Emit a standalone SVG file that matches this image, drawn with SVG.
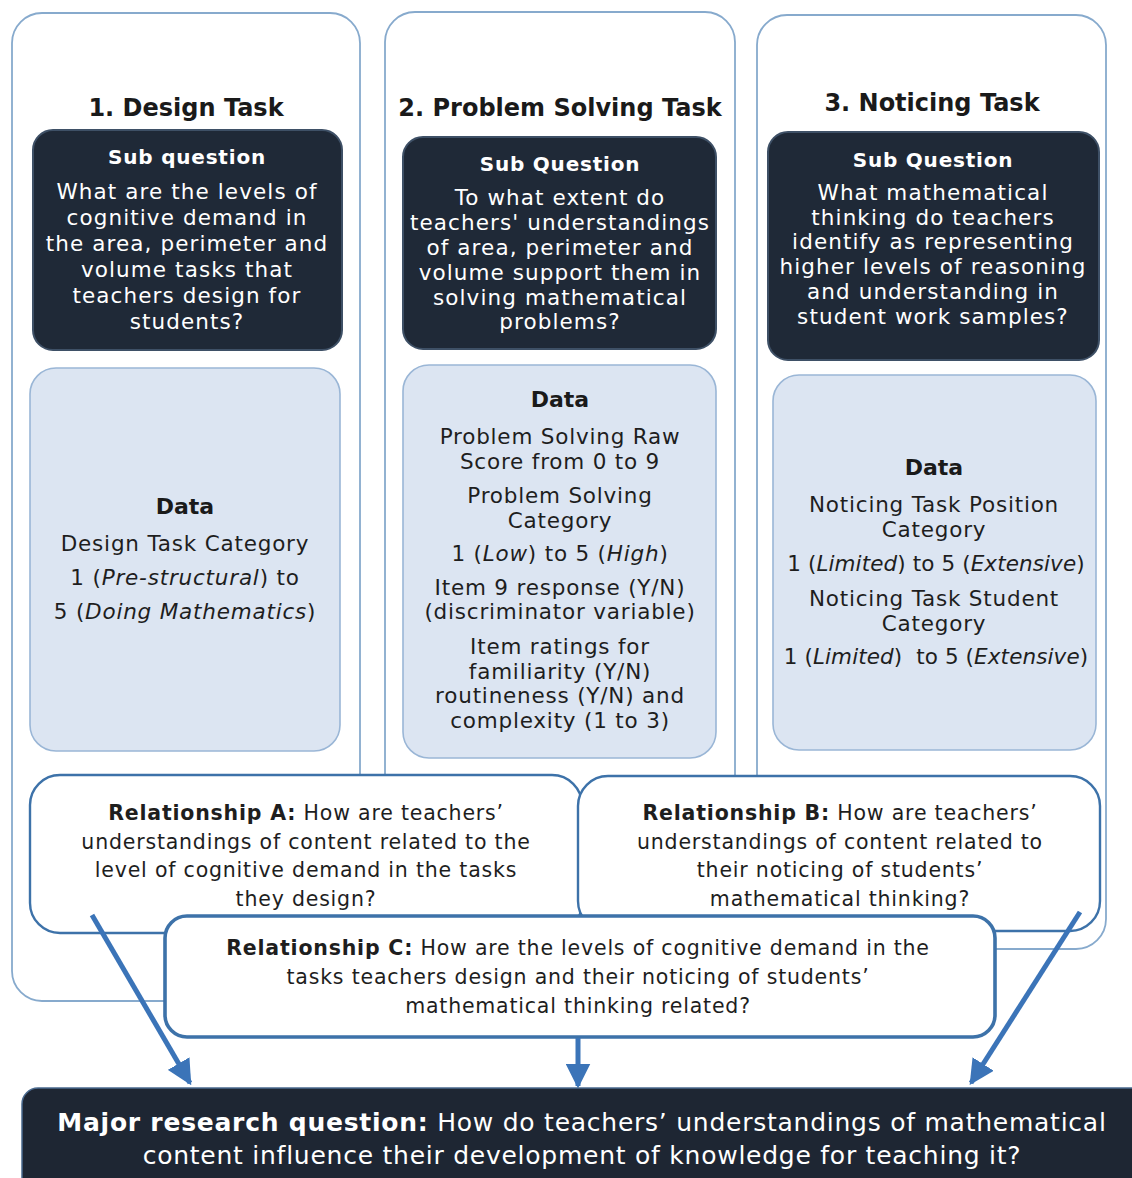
<svg xmlns="http://www.w3.org/2000/svg" width="1132" height="1178" viewBox="0 0 1132 1178">
  <defs>
    <marker id="arrowhead" viewBox="0 0 10 10" refX="9" refY="5" markerWidth="5" markerHeight="5" orient="auto" markerUnits="strokeWidth">
      <path d="M0,0 L10,5 L0,10 Z" fill="#3b74b8"/>
    </marker>
    <style>
      text { font-family: "DejaVu Sans", "Open Sans", sans-serif; text-anchor: middle; }
      .column { fill: #ffffff; stroke: #87aacd; stroke-width: 1.8; }
      .question { fill: #1f2937; stroke: #3e5066; stroke-width: 2; }
      .data { fill: #dce5f2; stroke: #9ab6d6; stroke-width: 1.6; }
      .rel { fill: #ffffff; stroke: #3d72a9; stroke-width: 2.4; }
      .relc { fill: #ffffff; stroke: #3d72a9; stroke-width: 3.6; }
      .major { fill: #1e2633; stroke: #4a6a8f; stroke-width: 1.5; }
      .title { font-size: 24px; font-weight: 700; fill: #1a1a1a; }
      .qhead { font-size: 20px; font-weight: 700; fill: #ffffff; letter-spacing: 0.8px; }
      .qbody { font-size: 21.5px; fill: #ffffff; letter-spacing: 1.1px; }
      .dhead { font-size: 22px; font-weight: 700; fill: #1a1a1a; }
      .dbody { font-size: 21.5px; fill: #1e1e1e; letter-spacing: 0.8px; }
      .dbody.tight { letter-spacing: 0.1px; }
      .rbody { font-size: 20.5px; fill: #1e1e1e; letter-spacing: 0.8px; }
      .mbody { font-size: 25px; fill: #ffffff; letter-spacing: 0.75px; }
      .b { font-weight: 700; }
      .i { font-style: italic; }
      .arrow { stroke: #3b74b8; stroke-width: 5; fill: none; marker-end: url(#arrowhead); }
    </style>
  </defs>

  <rect width="1132" height="1178" fill="#ffffff"/>

  <!-- Column 1: Design Task -->
  <g id="col-design">
    <rect class="column" x="12" y="13" width="348" height="988" rx="30"/>
    <text class="title" x="186" y="116">1. Design Task</text>
    <g id="design-question">
      <rect class="question" x="33" y="130" width="309" height="220" rx="20"/>
      <text class="qhead" x="187" y="164">Sub question</text>
      <text class="qbody" x="187" y="199">What are the levels of</text>
      <text class="qbody" x="187" y="225">cognitive demand in</text>
      <text class="qbody" x="187" y="251">the area, perimeter and</text>
      <text class="qbody" x="187" y="277">volume tasks that</text>
      <text class="qbody" x="187" y="303">teachers design for</text>
      <text class="qbody" x="187" y="329">students?</text>
    </g>
    <g id="design-data">
      <rect class="data" x="30" y="368" width="310" height="383" rx="26"/>
      <text class="dhead" x="185" y="514">Data</text>
      <text class="dbody" x="185" y="551">Design Task Category</text>
      <text class="dbody" x="185" y="585">1 (<tspan class="i">Pre-structural</tspan>) to</text>
      <text class="dbody" x="185" y="619">5 (<tspan class="i">Doing Mathematics</tspan>)</text>
    </g>
  </g>

  <!-- Column 2: Problem Solving Task -->
  <g id="col-problem">
    <rect class="column" x="385" y="12" width="350" height="930" rx="30"/>
    <text class="title" x="560" y="116">2. Problem Solving Task</text>
    <g id="problem-question">
      <rect class="question" x="403" y="137" width="313" height="212" rx="20"/>
      <text class="qhead" x="560" y="171">Sub Question</text>
      <text class="qbody" x="560" y="205">To what extent do</text>
      <text class="qbody" x="560" y="230">teachers' understandings</text>
      <text class="qbody" x="560" y="255">of area, perimeter and</text>
      <text class="qbody" x="560" y="280">volume support them in</text>
      <text class="qbody" x="560" y="305">solving mathematical</text>
      <text class="qbody" x="560" y="329">problems?</text>
    </g>
    <g id="problem-data">
      <rect class="data" x="403" y="365" width="313" height="393" rx="26"/>
      <text class="dhead" x="560" y="407">Data</text>
      <text class="dbody" x="560" y="444">Problem Solving Raw</text>
      <text class="dbody" x="560" y="469">Score from 0 to 9</text>
      <text class="dbody" x="560" y="503">Problem Solving</text>
      <text class="dbody" x="560" y="528">Category</text>
      <text class="dbody" x="560" y="561">1 (<tspan class="i">Low</tspan>) to 5 (<tspan class="i">High</tspan>)</text>
      <text class="dbody" x="560" y="595">Item 9 response (Y/N)</text>
      <text class="dbody" x="560" y="619">(discriminator variable)</text>
      <text class="dbody" x="560" y="654">Item ratings for</text>
      <text class="dbody" x="560" y="679">familiarity (Y/N)</text>
      <text class="dbody" x="560" y="703">routineness (Y/N) and</text>
      <text class="dbody" x="560" y="728">complexity (1 to 3)</text>
    </g>
  </g>

  <!-- Column 3: Noticing Task -->
  <g id="col-noticing">
    <rect class="column" x="757" y="15" width="349" height="934" rx="30"/>
    <text class="title" x="932" y="111">3. Noticing Task</text>
    <g id="noticing-question">
      <rect class="question" x="768" y="132" width="331" height="228" rx="20"/>
      <text class="qhead" x="933" y="167">Sub Question</text>
      <text class="qbody" x="933" y="200">What mathematical</text>
      <text class="qbody" x="933" y="225">thinking do teachers</text>
      <text class="qbody" x="933" y="249">identify as representing</text>
      <text class="qbody" x="933" y="274">higher levels of reasoning</text>
      <text class="qbody" x="933" y="299">and understanding in</text>
      <text class="qbody" x="933" y="324">student work samples?</text>
    </g>
    <g id="noticing-data">
      <rect class="data" x="773" y="375" width="323" height="375" rx="26"/>
      <text class="dhead" x="934" y="475">Data</text>
      <text class="dbody" x="934" y="512">Noticing Task Position</text>
      <text class="dbody" x="934" y="537">Category</text>
      <text class="dbody tight" x="936" y="571">1 (<tspan class="i">Limited</tspan>) to 5 (<tspan class="i">Extensive</tspan>)</text>
      <text class="dbody" x="934" y="606">Noticing Task Student</text>
      <text class="dbody" x="934" y="631">Category</text>
      <text class="dbody tight" x="936" y="664" xml:space="preserve">1 (<tspan class="i">Limited</tspan>)  to 5 (<tspan class="i">Extensive</tspan>)</text>
    </g>
  </g>

  <!-- Relationship A -->
  <g id="rel-a">
    <rect class="rel" x="30" y="775" width="552" height="158" rx="30"/>
    <text class="rbody" x="306" y="820"><tspan class="b">Relationship A:</tspan> How are teachers’</text>
    <text class="rbody" x="306" y="849">understandings of content related to the</text>
    <text class="rbody" x="306" y="877">level of cognitive demand in the tasks</text>
    <text class="rbody" x="306" y="906">they design?</text>
  </g>

  <!-- Relationship B -->
  <g id="rel-b">
    <rect class="rel" x="578" y="776" width="522" height="155" rx="30"/>
    <text class="rbody" x="840" y="820"><tspan class="b">Relationship B:</tspan> How are teachers’</text>
    <text class="rbody" x="840" y="849">understandings of content related to</text>
    <text class="rbody" x="840" y="877">their noticing of students’</text>
    <text class="rbody" x="840" y="906">mathematical thinking?</text>
  </g>

  <!-- Relationship C -->
  <g id="rel-c">
    <rect class="relc" x="165" y="916" width="830" height="121" rx="22"/>
    <text class="rbody" x="578" y="955"><tspan class="b">Relationship C:</tspan> How are the levels of cognitive demand in the</text>
    <text class="rbody" x="578" y="984">tasks teachers design and their noticing of students’</text>
    <text class="rbody" x="578" y="1013">mathematical thinking related?</text>
  </g>

  <!-- Connectors into the major research question -->
  <g id="connectors">
    <line class="arrow" x1="92" y1="915" x2="190" y2="1083"/>
    <line class="arrow" x1="578" y1="1038" x2="578" y2="1086"/>
    <line class="arrow" x1="1080" y1="912" x2="971" y2="1083"/>
  </g>

  <!-- Major research question -->
  <g id="major-question">
    <rect class="major" x="22" y="1088" width="1130" height="110" rx="16"/>
    <text class="mbody" x="582" y="1131"><tspan class="b">Major research question:</tspan> How do teachers’ understandings of mathematical</text>
    <text class="mbody" x="582" y="1164">content influence their development of knowledge for teaching it?</text>
  </g>
</svg>
